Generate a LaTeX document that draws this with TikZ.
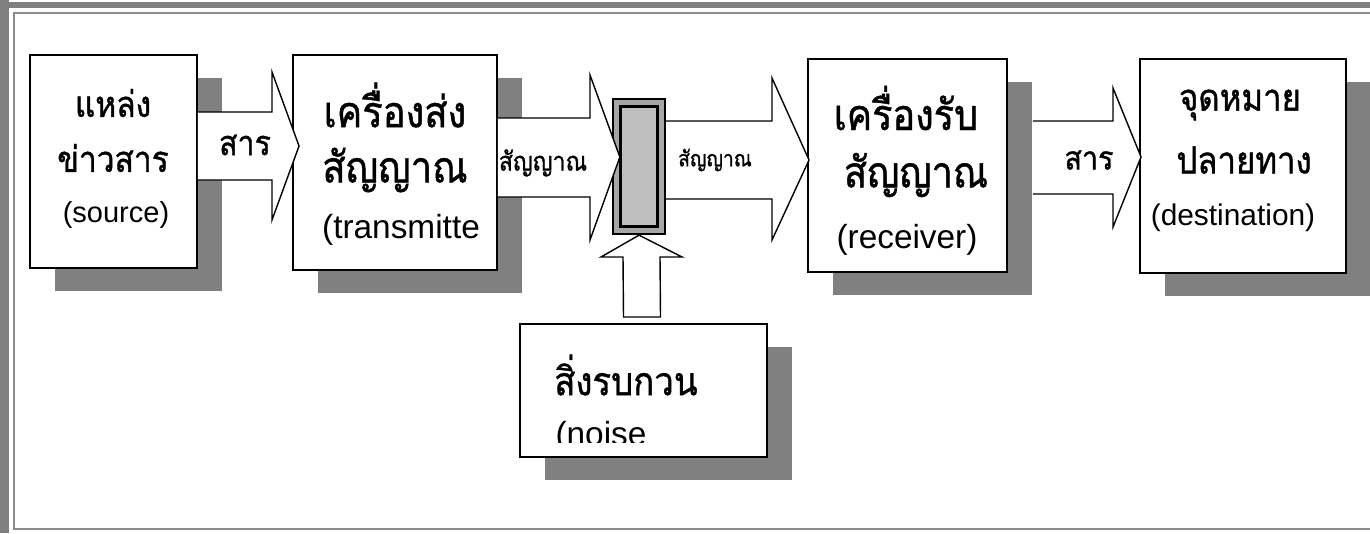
\documentclass[tikz,border=0pt]{standalone}
\usepackage{fontspec}
\setmainfont{Liberation Sans}
\newfontfamily\thaifont[Script=Thai, FakeStretch=0.88, FakeBold=1]{Loma}
\usetikzlibrary{calc,shadows}

\tikzset{
	block/.style={draw, line width=1.1pt, fill=white, inner sep=0pt,
		drop shadow={shadow xshift=5mm, shadow yshift=-4.6mm, fill=black!50, opacity=1}},
	fat arrow/.style={draw, line width=0.8pt, fill=white, line join=miter},
	thai/.style={font=\thaifont\fontsize{#1}{#1}\selectfont, inner sep=0pt},
	latin/.style={font=\fontsize{#1}{#1}\selectfont, inner sep=0pt},
}

\begin{document}
\begin{tikzpicture}[x=0.2mm, y=-0.2mm]
	\useasboundingbox (0,0) rectangle (1370,533);

	% frame
	\fill [black!50] (0,0) rectangle (9,533);
	\fill [black!50] (0,2) rectangle (1370,8);
	\draw [black!45, line width=1pt] (1370,13) -- (14,13) -- (14,529) -- (1370,529);

	% source
	\node [block, minimum width=33.4mm, minimum height=42.6mm] at (113.5,161.5) (src) {};
	\node [thai=20.5pt] at (113,103) (src-a) {แหล่ง};
	\node [thai=20.5pt] at (113,158) (src-b) {ข่าวสาร};
	\node [latin=16.5pt] at (116,215) (src-c) {(source)};

	% transmitter
	\node [block, minimum width=40.8mm, minimum height=43mm] at (395,162.5) (tx) {};
	\node [thai=24.7pt] at (395,105) (tx-a) {เครื่องส่ง};
	\node [thai=24.7pt] at (395,170) (tx-b) {สัญญาณ};
	\node [latin=19pt] at (401,230) (tx-c) {(transmitte};

	% receiver
	\node [block, minimum width=39.8mm, minimum height=42.6mm] at (907.5,165.5) (rx) {};
	\node [thai=24.5pt] at (906,108) (rx-a) {เครื่องรับ};
	\node [thai=24.5pt] at (916,175) (rx-b) {สัญญาณ};
	\node [latin=19pt] at (907,240) (rx-c) {(receiver)};

	% destination
	\node [block, minimum width=41.2mm, minimum height=42.8mm] at (1243,166) (dst) {};
	\node [thai=21.3pt] at (1240,105) (dst-a) {จุดหมาย};
	\node [thai=21.3pt] at (1244,160) (dst-b) {ปลายทาง};
	\node [latin=17pt] at (1233,218) (dst-c) {(destination)};

	% noise
	\node [block, minimum width=49.4mm, minimum height=26.6mm] at (643.5,390.5) (noise) {};
	\node [thai=22.5pt] at (626,375) (noise-a) {สิ่งรบกวน};
	\begin{scope}
		\clip (noise.north west) rectangle (767,442);
		\node [latin=19pt] at (601,437) (noise-b) {(noise};
	\end{scope}

	% channel
	\node [draw, line width=1.3pt, fill=black!35, minimum width=10.4mm, minimum height=27mm, inner sep=0pt] at (639,166.5) (chan) {};
	\node [draw, line width=1.3pt, fill=black!25, minimum width=7.4mm, minimum height=24mm, inner sep=0pt] at (chan.center) (chan-in) {};

	% source to transmitter
	\draw [fat arrow] (src.east |- 0,112) -- (272,112) -- (272,72) -- ($(tx.west |- 0,146)+(7,0)$) -- (272,220) -- (272,180) -- (src.east |- 0,180);
	\node [thai=19.6pt] at (245,145) (msg-a) {สาร};

	% transmitter to channel
	\draw [fat arrow] (tx.east |- 0,118) -- (590,118) -- (590,75) -- ($(chan.west |- 0,157)+(8,0)$) -- (590,240) -- (590,197) -- (tx.east |- 0,197);
	\node [thai=15pt] at (543,163) (sig-a) {สัญญาณ};

	% channel to receiver
	\draw [fat arrow] (chan.east |- 0,121) -- (772,121) -- (772,78) -- ($(rx.west |- 0,160)+(2,0)$) -- (772,240) -- (772,199) -- (chan.east |- 0,199);
	\node [thai=12.5pt] at (715,160) (sig-b) {สัญญาณ};

	% receiver to destination
	\draw [fat arrow] ($(rx.east |- 0,121)+(25,0)$) -- (1113,121) -- (1113,88) -- ($(dst.west |- 0,157)+(2,0)$) -- (1113,227) -- (1113,194) -- ($(rx.east |- 0,194)+(25,0)$);
	\node [thai=18.5pt] at (1089,160) (msg-b) {สาร};

	% noise to channel
	\draw [fat arrow] ($(noise.north)+(-20,-6)$) -- (623,257) -- (601,257) -- (chan.south) -- (682,257) -- (660,257) -- ($(noise.north)+(17,-6)$) -- cycle;

\end{tikzpicture}
\end{document}
